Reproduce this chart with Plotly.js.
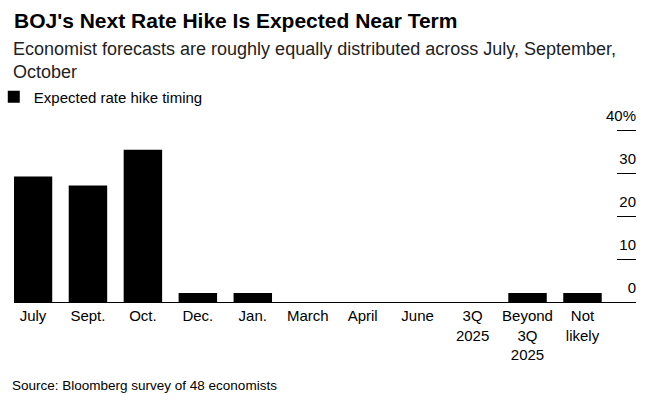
<!DOCTYPE html>
<html>
<head>
<meta charset="utf-8">
<script src="https://cdn.plot.ly/plotly-3.0.1.min.js"></script>
<style>html,body{margin:0;padding:0;background:#fff;}#chart{width:651px;height:415px;}</style>
</head>
<body>
<div id="chart"></div>
<script>
const categories = ['July','Sept.','Oct.','Dec.','Jan.','March','April','June','3Q<br>2025','Beyond<br>3Q<br>2025','Not<br>likely'];
const shares = [29.2, 27.1, 35.4, 2.1, 2.1, 0, 0, 0, 0, 2.1, 2.1];
const yTickVals = [0, 10, 20, 30, 40];
const yTickText = ['0', '10', '20', '30', '40%'];
const seriesName = 'Expected rate hike timing';
const titleText = "<b>BOJ's Next Rate Hike Is Expected Near Term</b>";
const subtitleText = 'Economist forecasts are roughly equally distributed across July, September,<br>October';
const sourceText = 'Source: Bloomberg survey of 48 economists';

const FONT = 'Arial, "Liberation Sans", Helvetica, sans-serif';

// plot area geometry (pixels)
const PLOT_TOP = 98, PLOT_BOTTOM = 302, PLOT_LEFT = 14, PLOT_RIGHT = 636;
const PX_PER_UNIT = 4.3;
const yTop = (PLOT_BOTTOM - PLOT_TOP) / PX_PER_UNIT;
const py = p => (PLOT_BOTTOM - p) / (PLOT_BOTTOM - PLOT_TOP);
const px = p => (p - PLOT_LEFT) / (PLOT_RIGHT - PLOT_LEFT);

const trace = {
  type: 'bar',
  x: categories,
  y: shares,
  name: seriesName,
  marker: {color: '#000000'},
  showlegend: true,
  hoverinfo: 'x+y'
};

const layout = {
  width: 651,
  height: 415,
  margin: {l: PLOT_LEFT, r: 651 - PLOT_RIGHT, t: PLOT_TOP, b: 415 - PLOT_BOTTOM, autoexpand: false},
  paper_bgcolor: '#ffffff',
  plot_bgcolor: '#ffffff',
  font: {family: FONT, color: '#000', size: 14},
  bargap: 0.3,
  title: {
    text: titleText,
    font: {family: FONT, size: 21, color: '#000'},
    x: 14/651, xref: 'container', xanchor: 'left',
    y: 1 - 21/415, yref: 'container', yanchor: 'middle'
  },
  showlegend: true,
  legend: {
    orientation: 'h',
    x: -0.01 - 14/622, xanchor: 'left',
    y: py(97), yanchor: 'middle',
    font: {family: FONT, size: 15, color: '#000'},
    bgcolor: 'rgba(0,0,0,0)'
  },
  xaxis: {
    type: 'category',
    range: [-0.3458, 10.974],
    showgrid: false,
    zeroline: false,
    showline: false,
    ticks: '',
    ticklabelstandoff: 3,
    tickfont: {family: FONT, size: 15, color: '#000'},
    fixedrange: true
  },
  yaxis: {
    side: 'right',
    range: [0, yTop],
    tickvals: yTickVals,
    ticktext: yTickText,
    ticks: 'inside',
    ticklen: 19,
    tickwidth: 1,
    tickcolor: '#000',
    showgrid: false,
    showline: false,
    zeroline: true,
    zerolinecolor: '#000',
    zerolinewidth: 1,
    ticklabelposition: 'inside top',
    ticklabelstandoff: -3,
    ticklabelshift: -3,
    tickfont: {family: FONT, size: 15, color: '#000'},
    fixedrange: true
  },
  annotations: [{
    text: subtitleText,
    xref: 'paper', yref: 'paper',
    x: px(11), y: py(60.5),
    xanchor: 'left', yanchor: 'middle', align: 'left',
    showarrow: false,
    font: {family: FONT, size: 18, color: '#222'}
  }, {
    text: sourceText,
    xref: 'paper', yref: 'paper',
    x: px(10), y: py(385),
    xanchor: 'left', yanchor: 'middle',
    showarrow: false,
    font: {family: FONT, size: 13.5, color: '#000'}
  }]
};

Plotly.newPlot('chart', [trace], layout, {displayModeBar: false, staticPlot: true});
</script>
</body>
</html>
